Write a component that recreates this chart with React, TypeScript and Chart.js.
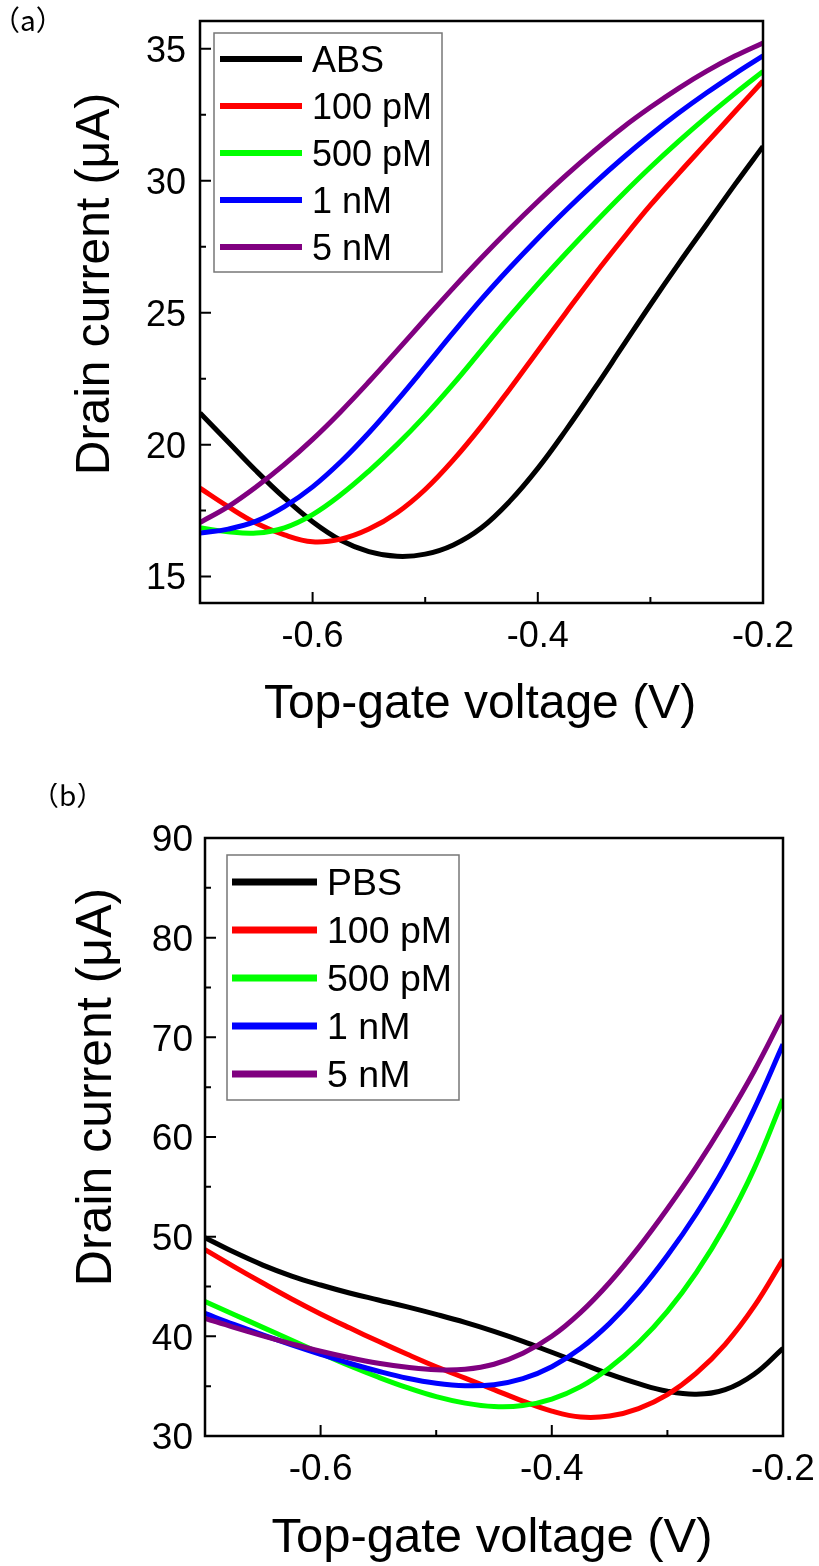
import React, { useEffect, useRef } from "react";
import { Chart, registerables } from "chart.js";

Chart.register(...registerables);

// ---------- data ----------
const gateVoltage = [
  -0.7, -0.675, -0.65, -0.625, -0.6, -0.575, -0.55, -0.525, -0.5, -0.475, -0.45,
  -0.425, -0.4, -0.375, -0.35, -0.325, -0.3, -0.275, -0.25, -0.225, -0.2,
];

const seriesLabelsA = ["ABS", "100 pM", "500 pM", "1 nM", "5 nM"];
const seriesLabelsB = ["PBS", "100 pM", "500 pM", "1 nM", "5 nM"];
const seriesColors = ["#000000", "#ff0000", "#00ff00", "#0000ff", "#800080"];

// panel (a)
const absA = [21.2, 20.1, 19.0, 17.98, 17.08, 16.38, 15.95, 15.77, 15.85, 16.2, 16.85, 17.85, 19.1, 20.55, 22.1, 23.7, 25.3, 26.85, 28.35, 29.85, 31.3];
const pM100A = [18.35, 17.65, 17.02, 16.58, 16.32, 16.42, 16.8, 17.42, 18.3, 19.42, 20.7, 22.1, 23.55, 25.0, 26.42, 27.77, 29.07, 30.27, 31.44, 32.61, 33.78];
const pM500A = [16.85, 16.7, 16.65, 16.85, 17.35, 18.1, 19.0, 20.0, 21.1, 22.3, 23.58, 24.86, 26.08, 27.25, 28.38, 29.47, 30.51, 31.49, 32.42, 33.3, 34.14];
const nM1A = [16.65, 16.8, 17.1, 17.65, 18.4, 19.35, 20.45, 21.67, 22.95, 24.25, 25.51, 26.69, 27.81, 28.88, 29.89, 30.84, 31.73, 32.56, 33.33, 34.05, 34.73];
const nM5A = [17.05, 17.65, 18.4, 19.25, 20.2, 21.25, 22.38, 23.56, 24.76, 25.94, 27.08, 28.17, 29.21, 30.2, 31.13, 32.0, 32.78, 33.5, 34.15, 34.72, 35.22];

// panel (b)
const pbsB = [49.9, 48.45, 47.15, 46.05, 45.15, 44.35, 43.65, 42.95, 42.2, 41.4, 40.5, 39.5, 38.4, 37.3, 36.2, 35.25, 34.5, 34.2, 34.65, 36.2, 38.8];
const pM100B = [48.7, 47.0, 45.35, 43.75, 42.25, 40.85, 39.5, 38.2, 36.95, 35.8, 34.65, 33.5, 32.5, 31.9, 32.0, 32.75, 34.15, 36.3, 39.2, 43.0, 47.7];
const pM500B = [43.5, 42.2, 40.9, 39.6, 38.3, 37.05, 35.9, 34.85, 33.95, 33.3, 32.95, 33.05, 33.7, 34.95, 36.85, 39.35, 42.5, 46.4, 51.1, 56.8, 63.8];
const nM1B = [42.3, 41.2, 40.15, 39.15, 38.2, 37.3, 36.5, 35.8, 35.3, 35.05, 35.15, 35.75, 36.95, 38.8, 41.3, 44.4, 48.1, 52.3, 57.1, 62.8, 69.3];
const nM5B = [41.8, 40.9, 40.05, 39.25, 38.5, 37.85, 37.3, 36.9, 36.65, 36.7, 37.2, 38.3, 40.0, 42.4, 45.4, 48.9, 52.8, 57.0, 61.6, 66.6, 72.2];

// ticks
const xRange = [-0.7, -0.2];
const xMajorTicks = [-0.6, -0.4, -0.2];
const xMinorTicks = [-0.5, -0.3];
const yRangeA = [14.0, 36.05];
const yMajorTicksA = [15, 20, 25, 30, 35];
const yMinorTicksA = [17.5, 22.5, 27.5, 32.5];
const yRangeB = [30, 90];
const yMajorTicksB = [30, 40, 50, 60, 70, 80, 90];
const yMinorTicksB = [35, 45, 55, 65, 75, 85];

const xTitle = "Top-gate voltage (V)";
const yTitle = "Drain current (\u03bcA)";

const FONT = '"Liberation Sans", Arial, Helvetica, sans-serif';

type LegendCfg = {
  left: number; top: number; right: number; bottom: number;
  lineX0: number; lineX1: number; textX: number; rows: number[];
  size: number; lineW: number;
};

type PanelCfg = {
  tag: string; tagX: number; tagY: number;
  padding: { left: number; right: number; top: number; bottom: number };
  yRange: number[]; yMajor: number[]; yMinor: number[];
  tickSize: number; yLabelRight: number; xLabelBaseline: number;
  xTitleX: number; xTitleY: number; xTitleSize: number;
  yTitleX: number; yTitleY: number; yTitleSize: number;
  legend: LegendCfg;
  labels: string[];
  series: number[][];
};

function decorPlugin(p: PanelCfg) {
  return {
    id: "decor",
    afterDraw(chart: any) {
      const ctx: CanvasRenderingContext2D = chart.ctx;
      const ca = chart.chartArea;
      const xs = chart.scales.x;
      const ys = chart.scales.y;
      ctx.save();
      // frame
      ctx.strokeStyle = "#000";
      ctx.lineWidth = 2.5;
      ctx.strokeRect(ca.left, ca.top, ca.right - ca.left, ca.bottom - ca.top);
      // ticks (inward)
      ctx.lineWidth = 2;
      ctx.beginPath();
      xMajorTicks.forEach((v) => {
        const px = xs.getPixelForValue(v);
        ctx.moveTo(px, ca.bottom);
        ctx.lineTo(px, ca.bottom - 11);
      });
      xMinorTicks.forEach((v) => {
        const px = xs.getPixelForValue(v);
        ctx.moveTo(px, ca.bottom);
        ctx.lineTo(px, ca.bottom - 6);
      });
      p.yMajor.forEach((v) => {
        const py = ys.getPixelForValue(v);
        ctx.moveTo(ca.left, py);
        ctx.lineTo(ca.left + 11, py);
      });
      p.yMinor.forEach((v) => {
        const py = ys.getPixelForValue(v);
        ctx.moveTo(ca.left, py);
        ctx.lineTo(ca.left + 6, py);
      });
      ctx.stroke();

      // tick labels
      ctx.fillStyle = "#000";
      ctx.font = `${p.tickSize}px ${FONT}`;
      ctx.textBaseline = "alphabetic";
      ctx.textAlign = "center";
      xMajorTicks.forEach((v) => {
        ctx.fillText(v.toFixed(1), xs.getPixelForValue(v), p.xLabelBaseline);
      });
      ctx.textAlign = "right";
      p.yMajor.forEach((v) => {
        ctx.fillText(String(v), p.yLabelRight, ys.getPixelForValue(v) + 0.358 * p.tickSize);
      });

      // axis titles
      ctx.textAlign = "center";
      ctx.font = `${p.xTitleSize}px ${FONT}`;
      ctx.fillText(xTitle, p.xTitleX, p.xTitleY);
      ctx.save();
      ctx.translate(p.yTitleX, p.yTitleY);
      ctx.rotate(-Math.PI / 2);
      ctx.font = `${p.yTitleSize}px ${FONT}`;
      ctx.fillText(yTitle, 0, 0);
      ctx.restore();

      // panel tag
      ctx.textAlign = "left";
      ctx.font = `28px "Noto Sans CJK JP", "Noto Sans CJK SC", sans-serif`;
      ctx.fillText(p.tag, p.tagX, p.tagY);

      // legend
      const L = p.legend;
      ctx.fillStyle = "#fff";
      ctx.fillRect(L.left, L.top, L.right - L.left, L.bottom - L.top);
      ctx.strokeStyle = "#777";
      ctx.lineWidth = 1.5;
      ctx.strokeRect(L.left, L.top, L.right - L.left, L.bottom - L.top);
      ctx.font = `${L.size}px ${FONT}`;
      ctx.textAlign = "left";
      p.labels.forEach((lab, i) => {
        const y = L.rows[i];
        ctx.strokeStyle = seriesColors[i];
        ctx.lineWidth = L.lineW;
        ctx.beginPath();
        ctx.moveTo(L.lineX0, y);
        ctx.lineTo(L.lineX1, y);
        ctx.stroke();
        ctx.fillStyle = "#000";
        ctx.fillText(lab, L.textX, y + 0.358 * L.size);
      });
      ctx.restore();
    },
  };
}

const panelA: PanelCfg = {
  tag: "\uff08a\uff09", tagX: -8, tagY: 31,
  padding: { left: 200, right: 56, top: 21, bottom: 180 },
  yRange: yRangeA, yMajor: yMajorTicksA, yMinor: yMinorTicksA,
  tickSize: 36, yLabelRight: 186, xLabelBaseline: 647,
  xTitleX: 480, xTitleY: 718, xTitleSize: 48,
  yTitleX: 109, yTitleY: 284, yTitleSize: 48,
  legend: {
    left: 214, top: 33, right: 442, bottom: 272,
    lineX0: 220, lineX1: 302, textX: 312, rows: [59, 106, 153, 200, 247],
    size: 36, lineW: 6,
  },
  labels: seriesLabelsA,
  series: [absA, pM100A, pM500A, nM1A, nM5A],
};

const panelB: PanelCfg = {
  tag: "\uff08b\uff09", tagX: 31, tagY: 23,
  padding: { left: 205, right: 36, top: 55, bottom: 130 },
  yRange: yRangeB, yMajor: yMajorTicksB, yMinor: yMinorTicksB,
  tickSize: 37, yLabelRight: 193, xLabelBaseline: 697,
  xTitleX: 492, xTitleY: 769, xTitleSize: 49,
  yTitleX: 111, yTitleY: 304, yTitleSize: 50,
  legend: {
    left: 227, top: 72, right: 459, bottom: 317,
    lineX0: 232, lineX1: 317, textX: 327, rows: [99, 147, 195, 243, 291],
    size: 37.5, lineW: 7,
  },
  labels: seriesLabelsB,
  series: [pbsB, pM100B, pM500B, nM1B, nM5B],
};

function Panel({ cfg, top }: { cfg: PanelCfg; top: number }) {
  const ref = useRef<HTMLCanvasElement | null>(null);
  useEffect(() => {
    if (!ref.current) return;
    const datasets = cfg.series.map((vals, i) => ({
      label: cfg.labels[i],
      data: gateVoltage.map((v, j) => ({ x: v, y: vals[j] })),
      borderColor: seriesColors[i],
      backgroundColor: seriesColors[i],
      borderWidth: 5,
      pointRadius: 0,
      tension: 0.4,
      fill: false,
      order: cfg.series.length - i,
    }));
    const chart = new Chart(ref.current, {
      type: "line",
      data: { datasets },
      options: {
        responsive: false,
        animation: false,
        layout: { padding: cfg.padding },
        scales: {
          x: { type: "linear", min: xRange[0], max: xRange[1], display: false },
          y: { type: "linear", min: cfg.yRange[0], max: cfg.yRange[1], display: false },
        },
        plugins: { legend: { display: false }, tooltip: { enabled: false } },
      },
      plugins: [decorPlugin(cfg)],
    } as any);
    return () => chart.destroy();
  }, [cfg]);
  return (
    <canvas
      ref={ref}
      width={819}
      height={783}
      style={{ position: "absolute", left: 0, top, width: 819, height: 783 }}
    />
  );
}

export default function App() {
  return (
    <div style={{ position: "absolute", left: 0, top: 0, width: 819, height: 1566, background: "#fff" }}>
      <Panel cfg={panelA} top={0} />
      <Panel cfg={panelB} top={783} />
    </div>
  );
}
